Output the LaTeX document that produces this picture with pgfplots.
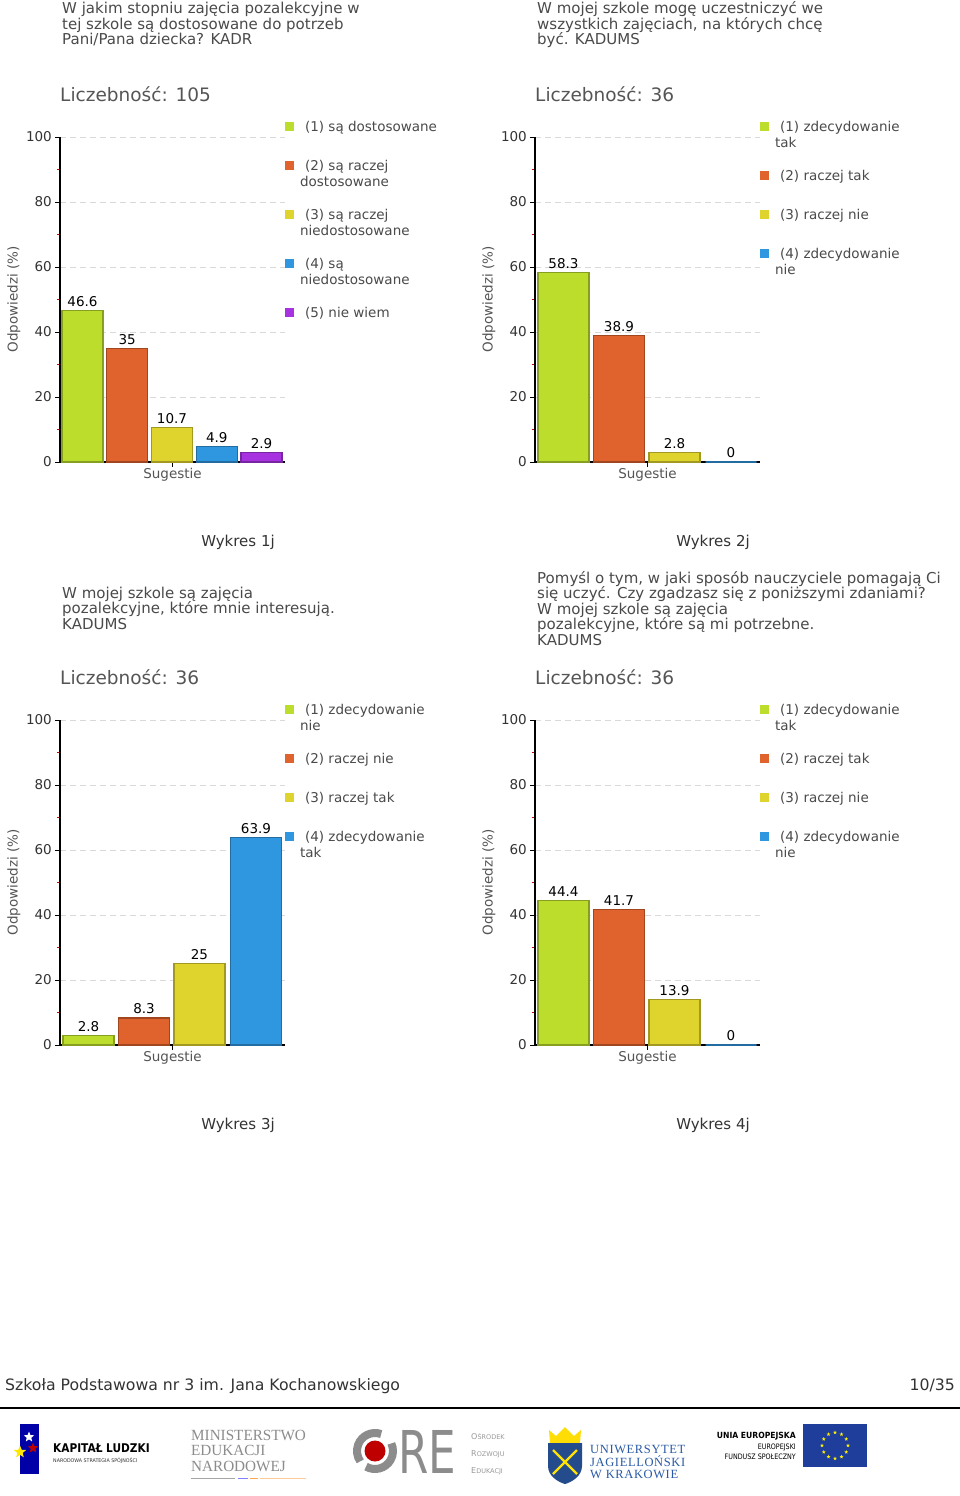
\documentclass[border=0pt]{standalone}
\usepackage{fontspec}
\setmainfont{DejaVu Sans}
\newfontfamily\serif{Liberation Serif}
\usepackage{graphicx}
\usepackage{pgfplots}
\pgfplotsset{compat=1.18}
\usetikzlibrary{shapes.geometric}

\definecolor{cG}{HTML}{BCDD2C}
\definecolor{cO}{HTML}{E0622D}
\definecolor{cY}{HTML}{DFD42E}
\definecolor{cB}{HTML}{2F96E0}
\definecolor{cP}{HTML}{A633DF}
\definecolor{ttl}{HTML}{4A4A4A}
\definecolor{lab}{HTML}{555555}
\definecolor{tck}{HTML}{333333}
\definecolor{ujb}{HTML}{2A5AA6}
\definecolor{eub}{HTML}{1F3E9C}

\newcommand\fs[2]{\fontsize{#1}{#2}\selectfont}
\newcommand\LA[1]{\rule[-28.5pt]{0pt}{39pt}\hspace{5pt}#1}
\newcommand\LB[2]{\vtop{\hbox{\rule{0pt}{10.5pt}\hspace{5pt}#1}\hbox{#2\rule[-22.5pt]{0pt}{22.5pt}}}}

\pgfplotsset{
  mybar/.style={ybar, bar shift=0pt, fill=#1, draw=#1!72!black, line width=1.1pt,
    legend image code/.code={\fill[#1] (0pt,0.5pt) rectangle (8pt,8.5pt);}},
  chart/.style={
    scale only axis, width=225pt, height=325pt,
    xmin=0, xmax=225, ymin=0, ymax=100,
    anchor=south west, clip=false,
    axis x line*=bottom, axis y line*=left,
    axis line style={line width=1.4pt, black, -},
    ytick={0,20,40,60,80,100}, minor ytick={10,30,50,70,90},
    xtick={112.5}, xticklabels={},
    tick align=outside,
    major tick length=5pt, minor tick length=3pt,
    major tick style={black, line width=1pt},
    minor tick style={red!80!black, line width=1pt},
    ymajorgrids, major grid style={dash pattern=on 6pt off 4pt, black!15, line width=0.8pt},
    /pgf/number format/assume math mode=true,
    yticklabel style={font=\fs{13.5}{16}, text=tck, inner sep=0pt, xshift=-3pt},
    ylabel={Odpowiedzi (\%)},
    ylabel style={at={(axis description cs:-0.2044,0.5)}, anchor=center, font=\fs{13.5}{16}, text=lab},
    xlabel={Sugestie},
    xlabel style={at={(axis description cs:0.5,-0.04)}, anchor=center, font=\fs{13.5}{16}, text=lab},
    nodes near coords,
    nodes near coords style={font=\fs{13.5}{16}, text=black},
    legend style={at={(1,1)}, anchor=north west, yshift=16.5pt, draw=none, fill=none,
      inner sep=0pt, outer sep=0pt, row sep=0pt, column sep=6pt, font=\fs{13.5}{16},
      cells={anchor=base west},
      nodes={inner sep=0pt, text depth=, text height=, text=ttl}},
  }
}

\newcommand\tline[3]{\node[anchor=base west, inner sep=0pt, font=\fs{15}{16}, text=ttl] at (#1pt,-#2pt) {#3};}

\begin{document}
\begin{tikzpicture}[x=1pt,y=1pt]
\fill[white] (0,0) rectangle (960,-1496);
\path[use as bounding box] (0,0) rectangle (960,-1496);

% ---------- titles ----------
\tline{62}{14}{W jakim stopniu zajęcia pozalekcyjne w}
\tline{62}{29.5}{tej szkole są dostosowane do potrzeb}
\tline{62}{45}{Pani/Pana dziecka? KADR}
\tline{537}{14}{W mojej szkole mogę uczestniczyć we}
\tline{537}{29.5}{wszystkich zajęciach, na których chcę}
\tline{537}{45}{być. KADUMS}
\tline{62}{598}{W mojej szkole są zajęcia}
\tline{62}{613.5}{pozalekcyjne, które mnie interesują.}
\tline{62}{629}{KADUMS}
\tline{537}{583}{Pomyśl o tym, w jaki sposób nauczyciele pomagają Ci}
\tline{537}{598.5}{się uczyć. Czy zgadzasz się z poniższymi zdaniami?}
\tline{537}{614}{W mojej szkole są zajęcia}
\tline{537}{629.5}{pozalekcyjne, które są mi potrzebne.}
\tline{537}{645}{KADUMS}

\foreach \xx/\yy/\nn in {60/101/105, 535/101/36, 60/684/36, 535/684/36}
  \node[anchor=base west, inner sep=0pt, font=\fs{18.5}{20}, text=lab] at (\xx,-\yy) {Liczebność: \nn};

\foreach \xx/\yy/\nn in {238/546/1j, 713/546/2j, 238/1129/3j, 713/1129/4j}
  \node[anchor=base, inner sep=0pt, font=\fs{15}{17}, text=tck] at (\xx,-\yy) {Wykres \nn};

% ---------- chart 1 ----------
\begin{axis}[chart, at={(60pt,-462pt)}, bar width=41]
\addplot[mybar=cG] coordinates {(22.5,46.6)}; \addlegendentry{\LA{(1) są dostosowane}}
\addplot[mybar=cO] coordinates {(67.25,35)}; \addlegendentry{\LB{(2) są raczej}{dostosowane}}
\addplot[mybar=cY] coordinates {(112,10.7)}; \addlegendentry{\LB{(3) są raczej}{niedostosowane}}
\addplot[mybar=cB] coordinates {(156.75,4.9)}; \addlegendentry{\LB{(4) są}{niedostosowane}}
\addplot[mybar=cP] coordinates {(201.5,2.9)}; \addlegendentry{\LA{(5) nie wiem}}
\end{axis}

% ---------- chart 2 ----------
\begin{axis}[chart, at={(535pt,-462pt)}, bar width=51]
\addplot[mybar=cG] coordinates {(28.5,58.3)}; \addlegendentry{\LB{(1) zdecydowanie}{tak}}
\addplot[mybar=cO] coordinates {(84,38.9)}; \addlegendentry{\LA{(2) raczej tak}}
\addplot[mybar=cY] coordinates {(139.5,2.8)}; \addlegendentry{\LA{(3) raczej nie}}
\addplot[mybar=cB] coordinates {(196,0)}; \addlegendentry{\LB{(4) zdecydowanie}{nie}}
\end{axis}

% ---------- chart 3 ----------
\begin{axis}[chart, at={(60pt,-1045pt)}, bar width=51]
\addplot[mybar=cG] coordinates {(28.5,2.8)}; \addlegendentry{\LB{(1) zdecydowanie}{nie}}
\addplot[mybar=cO] coordinates {(84,8.3)}; \addlegendentry{\LA{(2) raczej nie}}
\addplot[mybar=cY] coordinates {(139.5,25)}; \addlegendentry{\LA{(3) raczej tak}}
\addplot[mybar=cB] coordinates {(196,63.9)}; \addlegendentry{\LB{(4) zdecydowanie}{tak}}
\end{axis}

% ---------- chart 4 ----------
\begin{axis}[chart, at={(535pt,-1045pt)}, bar width=51]
\addplot[mybar=cG] coordinates {(28.5,44.4)}; \addlegendentry{\LB{(1) zdecydowanie}{tak}}
\addplot[mybar=cO] coordinates {(84,41.7)}; \addlegendentry{\LA{(2) raczej tak}}
\addplot[mybar=cY] coordinates {(139.5,13.9)}; \addlegendentry{\LA{(3) raczej nie}}
\addplot[mybar=cB] coordinates {(196,0)}; \addlegendentry{\LB{(4) zdecydowanie}{nie}}
\end{axis}

% ---------- footer ----------
\node[anchor=base west, inner sep=0pt, font=\fs{15.7}{17}, text=tck] at (5,-1390) {Szkoła Podstawowa nr 3 im. Jana Kochanowskiego};
\node[anchor=base east, inner sep=0pt, font=\fs{15.7}{17}, text=tck] at (955,-1390) {10/35};
\draw[line width=2pt, black] (0,-1408) -- (960,-1408);

% Kapitał Ludzki
\fill[blue!65!black] (20,-1424) -- (39,-1424) -- (39,-1474) -- (20,-1474) -- cycle;
\node[star, star points=5, star point ratio=2.3, fill=white, minimum size=11pt, inner sep=0pt] at (29,-1437) {};
\node[star, star points=5, star point ratio=2.3, fill=red!75!black, minimum size=11pt, inner sep=0pt] at (33,-1448) {};
\node[star, star points=5, star point ratio=2.3, fill=yellow!90!orange, minimum size=13pt, inner sep=0pt] at (20,-1452) {};
\node[anchor=base west, inner sep=0pt, font=\bfseries\fs{12}{12}] at (53,-1452) {\scalebox{0.88}[1]{KAPITAŁ LUDZKI}};
\node[anchor=base west, inner sep=0pt, font=\fs{5}{5}, text=black!80] at (53,-1462) {\scalebox{0.95}[1]{NARODOWA STRATEGIA SPÓJNOŚCI}};

% MEN
\foreach \yy/\tt in {1440/MINISTERSTWO, 1455/EDUKACJI, 1471/NARODOWEJ}
  \node[anchor=base west, inner sep=0pt, font=\serif\fs{15.5}{16}, text=black!45] at (191,-\yy) {\scalebox{0.98}[1]{\tt}};
\draw[black!35, line width=0.6pt] (191,-1478) -- (235,-1478);
\draw[orange!40, line width=0.6pt] (260,-1478) -- (306,-1478);
\draw[blue!50, line width=0.8pt] (238,-1478) -- (248,-1478);
\draw[orange!70, line width=0.8pt] (250,-1478) -- (258,-1478);

% ORE
\draw[black!45, line width=8pt] (375,-1451) ++(70:18) arc (70:215:18);
\draw[black!45, line width=8pt] (375,-1451) ++(240:18) arc (240:385:18);
\fill[red!75!black] (375,-1451) circle (10.5);
\node[anchor=base west, inner sep=0pt, font=\fs{59}{60}, text=black!45] at (398,-1473) {\scalebox{0.74}[1]{RE}};
\node[anchor=base west, inner sep=0pt, font=\fs{8}{9}, text=black!40] at (471,-1439) {O{\fs{6.5}{7}ŚRODEK}};
\node[anchor=base west, inner sep=0pt, font=\fs{8}{9}, text=black!40] at (471,-1456) {R{\fs{6.5}{7}OZWOJU}};
\node[anchor=base west, inner sep=0pt, font=\fs{8}{9}, text=black!40] at (471,-1473) {E{\fs{6.5}{7}DUKACJI}};

% UJ
\fill[yellow!80!orange] (550,-1443) -- (549,-1430) -- (556,-1436) -- (565,-1427) -- (574,-1436) -- (581,-1430) -- (580,-1443) -- cycle;
\fill[ujb!85!black] (548,-1443) -- (582,-1443) -- (582,-1466) .. controls (582,-1476) and (572,-1482) .. (565,-1484) .. controls (558,-1482) and (548,-1476) .. (548,-1466) -- cycle;
\draw[yellow!85!orange, line width=2.2pt] (553,-1450) -- (577,-1474);
\draw[yellow!85!orange, line width=2.2pt] (577,-1450) -- (553,-1474);
\foreach \yy/\tt in {1453/UNIWERSYTET, 1466/JAGIELLOŃSKI, 1478/W KRAKOWIE}
  \node[anchor=base west, inner sep=0pt, font=\serif\fs{12.5}{13}, text=ujb] at (590,-\yy) {\addfontfeatures{LetterSpace=5}\tt};

% EU
\node[anchor=base east, inner sep=0pt, font=\bfseries\fs{8.5}{9}] at (796,-1438) {\scalebox{0.9}[1]{UNIA EUROPEJSKA}};
\node[anchor=base east, inner sep=0pt, font=\fs{7.5}{8}] at (796,-1449) {\scalebox{0.85}[1]{EUROPEJSKI}};
\node[anchor=base east, inner sep=0pt, font=\fs{7.5}{8}] at (796,-1459) {\scalebox{0.85}[1]{FUNDUSZ SPOŁECZNY}};
\fill[eub] (803,-1424) rectangle (867,-1467);
\foreach \a in {0,30,...,330}
  \node[star, star points=5, star point ratio=2.3, fill=yellow, minimum size=4pt, inner sep=0pt] at ([shift={(\a:13)}]835,-1445.5) {};
\end{tikzpicture}
\end{document}
